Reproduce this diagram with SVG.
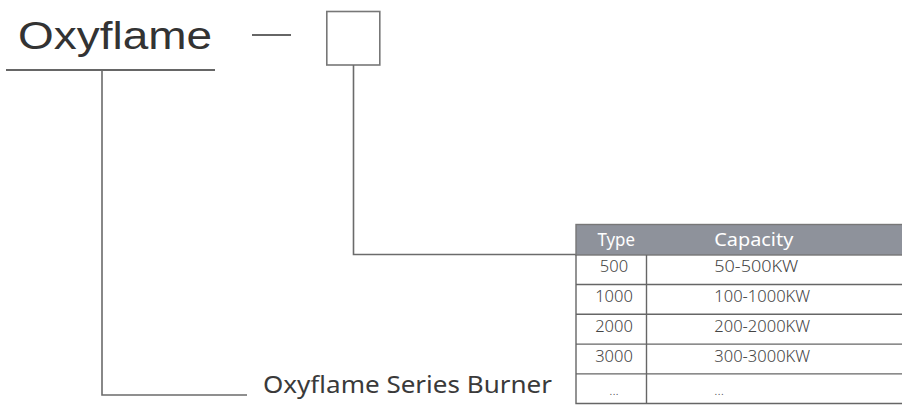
<svg xmlns="http://www.w3.org/2000/svg" width="902" height="405" viewBox="0 0 902 405">
<style>
.ln{stroke:#6b6b6b;stroke-width:1.6;fill:none}
.tl{stroke:#666;stroke-width:1.4;fill:none}
.t{font-family:"Noto Sans","Open Sans",sans-serif;fill:#3a3a3a}
.cell{font-size:16.5px;font-weight:300;fill:#444}
.hd{font-family:"Noto Sans","Open Sans",sans-serif;fill:#fff;font-size:18px}
</style>
<rect width="902" height="405" fill="#fff"/>
<g id="title">
<text x="18" y="49" font-family="'Liberation Sans',Arial,sans-serif" font-size="38" fill="#333" textLength="194" lengthAdjust="spacingAndGlyphs">Oxyflame</text>
<line x1="6" y1="70" x2="215" y2="70" stroke="#666" stroke-width="2"/>
</g>
<g id="dash"><line x1="252" y1="35" x2="291" y2="35" stroke="#666" stroke-width="2"/></g>
<g id="box"><rect x="326.8" y="11.5" width="53" height="53.5" fill="#fff" stroke="#777" stroke-width="1.6"/></g>
<g id="connectors">
<polyline class="ln" points="102,70 102,395 247,395"/>
<polyline class="ln" points="353.5,65 353.5,254.5 576,254.5"/>
</g>
<g id="series-label">
<text class="t" x="263" y="393" font-size="24" textLength="289" lengthAdjust="spacingAndGlyphs">Oxyflame Series Burner</text>
</g>
<g id="table">
<rect x="576" y="224.5" width="330" height="30.5" fill="#8e929b" stroke="#777" stroke-width="1.4"/>
<polyline class="tl" points="576,255 576,403.5 906,403.5"/>
<line class="tl" x1="646.5" y1="255" x2="646.5" y2="403.5"/>
<line class="tl" x1="576" y1="284.5" x2="906" y2="284.5"/>
<line class="tl" x1="576" y1="314.3" x2="906" y2="314.3"/>
<line class="tl" x1="576" y1="344.1" x2="906" y2="344.1"/>
<line class="tl" x1="576" y1="373.9" x2="906" y2="373.9"/>
<text class="hd" x="597.5" y="246" textLength="37.5" lengthAdjust="spacingAndGlyphs">Type</text>
<text class="hd" x="714.3" y="246" textLength="79" lengthAdjust="spacingAndGlyphs">Capacity</text>
<g class="t cell" text-anchor="middle">
<text x="614" y="272">500</text>
<text x="614" y="302">1000</text>
<text x="614" y="331.8">2000</text>
<text x="614" y="361.6">3000</text>
<text x="614" y="395" font-size="13">...</text>
</g>
<g class="t cell">
<text x="714.3" y="272" textLength="84" lengthAdjust="spacingAndGlyphs">50-500KW</text>
<text x="714.3" y="302">100-1000KW</text>
<text x="714.3" y="331.8">200-2000KW</text>
<text x="714.3" y="361.6">300-3000KW</text>
<text x="714.3" y="395" font-size="13">...</text>
</g>
</g>
</svg>
